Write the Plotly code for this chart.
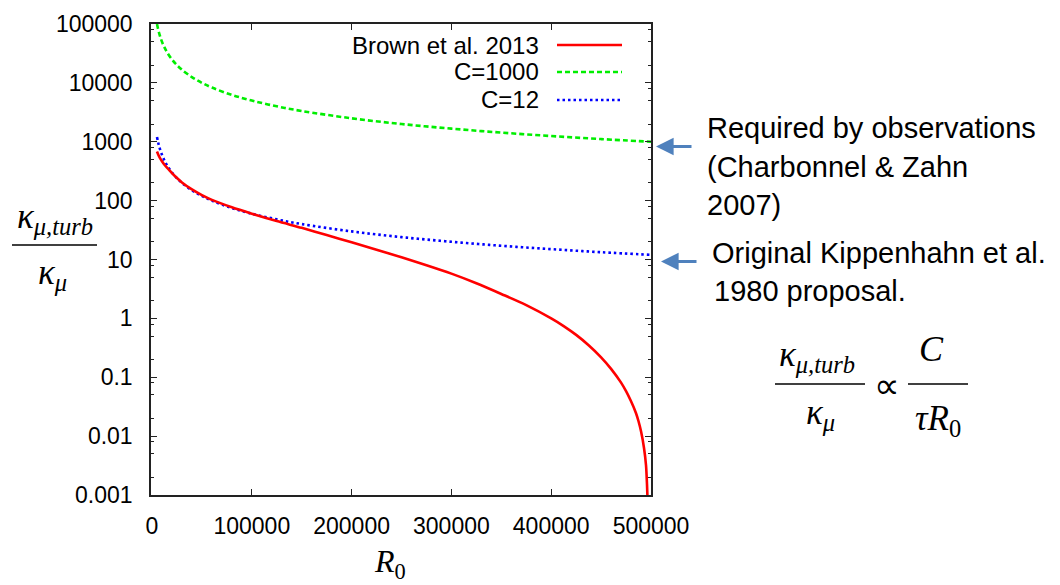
import plotly.graph_objects as go

# ---------------- data ----------------
r0_c = [5000, 6000, 7000, 8000, 10000, 12500, 15000, 20000, 25000, 30000, 40000, 50000,
        60000, 80000, 100000, 125000, 150000, 200000, 250000, 300000, 350000, 400000,
        450000, 500000]
c1000 = [100000, 83300, 71400, 62500, 50000, 40000, 33300, 25000, 20000, 16700, 12500, 10000,
         8330, 6250, 5000, 4000, 3330, 2500, 2000, 1670, 1430, 1250, 1110, 1000]
c12 = [1200, 1000, 857, 750, 600, 480, 400, 300, 240, 200, 150, 120,
       100, 75, 60, 48, 40, 30, 24, 20, 17.1, 15, 13.3, 12]

r0_brown = [5000, 6000, 7000, 8000, 10000, 12500, 15000, 17300, 20000, 25000, 30000, 40000,
            50000, 60000, 80000, 100000, 125000, 150000, 175000, 200000, 225000, 250000,
            275000, 300000, 325000, 350000, 375000, 400000, 412500, 425000, 437500, 450000,
            460000, 470000, 475000, 480000, 485000, 487500, 490000, 493000, 495000, 496000,
            496800]
brown = [685, 620, 569, 529, 468, 407, 362, 331, 293, 242, 204, 155,
         124, 103, 77, 60, 44.9, 34.5, 26.0, 19.6, 14.6, 10.9,
         8.0, 5.75, 3.95, 2.6, 1.68, 1.0, 0.74, 0.524, 0.35, 0.218,
         0.139, 0.081, 0.058, 0.039, 0.0245, 0.0179, 0.0121, 0.0063, 0.0032, 0.0015,
         0.00063]

series_names = ["Brown et al. 2013", "C=1000", "C=12"]

x_tickvals = [0, 100000, 200000, 300000, 400000, 500000]
x_ticktext = ["0", "100000", "200000", "300000", "400000", "500000"]
y_tickvals = [0.001, 0.01, 0.1, 1, 10, 100, 1000, 10000, 100000]
y_ticktext = ["0.001", "0.01", "0.1", "1", "10", "100", "1000", "10000", "100000"]
y_minor = [m * 10 ** e for e in range(-3, 5) for m in (2, 5, 8)]

# ---------------- layout geometry ----------------
W, H = 1060, 585
L, R, T, B = 151, 651, 24, 495


def px(x):
    return (x - L) / (R - L)


def py(y):
    return (B - y) / (B - T)


RED, GREEN, BLUE = "#ff0000", "#00ee00", "#0000ff"
SANS = "Liberation Sans, Arial, sans-serif"
SERIF = "Liberation Serif, Times New Roman, serif"

fig = go.Figure()
fig.add_trace(go.Scatter(x=r0_c, y=c1000, mode="lines", name=series_names[1],
                         line=dict(color=GREEN, width=2.6, dash="5px,3px", shape="spline"),
                         showlegend=False))
fig.add_trace(go.Scatter(x=r0_c, y=c12, mode="lines", name=series_names[2],
                         line=dict(color=BLUE, width=2.6, dash="2.5px,3px", shape="spline"),
                         showlegend=False))
fig.add_trace(go.Scatter(x=r0_brown, y=brown, mode="lines", name=series_names[0],
                         line=dict(color=RED, width=2.6, shape="spline", smoothing=0.8),
                         showlegend=False))

shapes = []
annotations = []

# manual legend (text on the left, sample on the right, gnuplot style)
leg_rows = [(45, RED, None), (72, GREEN, "5px,3px"), (100, BLUE, "2.5px,3px")]
for name, (yy, col, dash) in zip(series_names, leg_rows):
    annotations.append(dict(x=px(541), y=py(yy), xref="paper", yref="paper",
                            text=name, showarrow=False, xanchor="right", yanchor="middle",
                            font=dict(family=SANS, size=24, color="black")))
    ln = dict(color=col, width=2.6)
    if dash:
        ln["dash"] = dash
    shapes.append(dict(type="line", xref="paper", yref="paper",
                       x0=px(557), x1=px(622), y0=py(yy), y1=py(yy), line=ln))

# y-axis title as a fraction
annotations.append(dict(x=px(55), y=py(242), xref="paper", yref="paper",
                        text="<i>κ<sub>μ,turb</sub></i>", showarrow=False,
                        xanchor="center", yanchor="bottom",
                        font=dict(family=SERIF, size=35, color="black")))
shapes.append(dict(type="line", xref="paper", yref="paper",
                   x0=px(12), x1=px(97), y0=py(245), y1=py(245),
                   line=dict(color="black", width=1.5)))
annotations.append(dict(x=px(52), y=py(251), xref="paper", yref="paper",
                        text="<i>κ<sub>μ</sub></i>", showarrow=False,
                        xanchor="center", yanchor="top",
                        font=dict(family=SERIF, size=35, color="black")))

# x-axis title
annotations.append(dict(x=px(390), y=py(563), xref="paper", yref="paper",
                        text="<i>R</i><sub>0</sub>", showarrow=False,
                        xanchor="center", yanchor="middle",
                        font=dict(family=SERIF, size=32, color="black")))

# right-hand notes
notes = [(705, 128, "Required by observations"), (705, 167, "(Charbonnel & Zahn"),
         (705, 205, "2007)"), (710, 253, "Original Kippenhahn et al."),
         (712, 291, "1980 proposal.")]
for xx, yy, txt in notes:
    annotations.append(dict(x=px(xx), y=py(yy), xref="paper", yref="paper",
                            text=txt, showarrow=False, xanchor="left", yanchor="middle",
                            font=dict(family=SANS, size=29, color="black")))

# arrows
for tipx, tipy in [(656, 146.5), (661, 261.5)]:
    annotations.append(dict(x=px(tipx), y=py(tipy), xref="paper", yref="paper",
                            text="", showarrow=True, ax=37, ay=0,
                            arrowhead=2, arrowsize=1.1, arrowwidth=3.2,
                            arrowcolor="#4f81bd"))

# proportionality formula
annotations.append(dict(x=px(817), y=py(380), xref="paper", yref="paper",
                        text="<i>κ<sub>μ,turb</sub></i>", showarrow=False,
                        xanchor="center", yanchor="bottom",
                        font=dict(family=SERIF, size=35, color="black")))
shapes.append(dict(type="line", xref="paper", yref="paper",
                   x0=px(775), x1=px(865), y0=py(384), y1=py(384),
                   line=dict(color="black", width=1.5)))
annotations.append(dict(x=px(820), y=py(391), xref="paper", yref="paper",
                        text="<i>κ<sub>μ</sub></i>", showarrow=False,
                        xanchor="center", yanchor="top",
                        font=dict(family=SERIF, size=35, color="black")))
annotations.append(dict(x=px(887), y=py(386), xref="paper", yref="paper",
                        text="∝", showarrow=False, xanchor="center", yanchor="middle",
                        font=dict(family=SERIF, size=36, color="black")))
annotations.append(dict(x=px(931), y=py(371), xref="paper", yref="paper",
                        text="<i>C</i>", showarrow=False, xanchor="center", yanchor="bottom",
                        font=dict(family=SERIF, size=36, color="black")))
shapes.append(dict(type="line", xref="paper", yref="paper",
                   x0=px(908), x1=px(968), y0=py(384), y1=py(384),
                   line=dict(color="black", width=1.5)))
annotations.append(dict(x=px(938), y=py(397), xref="paper", yref="paper",
                        text="<i>τR</i><sub>0</sub>", showarrow=False,
                        xanchor="center", yanchor="top",
                        font=dict(family=SERIF, size=35, color="black")))

axis_common = dict(showline=True, linecolor="#222222", linewidth=1.5, mirror="ticks",
                   ticks="inside", ticklen=6, tickwidth=1.2, tickcolor="#222222",
                   showgrid=False, zeroline=False,
                   tickfont=dict(family=SANS, size=23, color="black"))

fig.update_layout(
    width=W, height=H,
    margin=dict(l=L, r=W - R, t=T, b=H - B, pad=0),
    paper_bgcolor="white", plot_bgcolor="white",
    showlegend=False,
    xaxis=dict(range=[-1000, 500000], tickmode="array", tickvals=x_tickvals,
               ticktext=x_ticktext, ticklabelstandoff=10, **axis_common),
    yaxis=dict(type="log", range=[-3, 5], tickmode="array", tickvals=y_tickvals,
               ticktext=y_ticktext, ticklabelstandoff=12,
               minor=dict(tickmode="array", tickvals=y_minor, ticks="inside",
                          ticklen=3, tickwidth=1.1, tickcolor="#222222", showgrid=False),
               **axis_common),
    shapes=shapes,
    annotations=annotations,
)

fig.write_html("out.html")
